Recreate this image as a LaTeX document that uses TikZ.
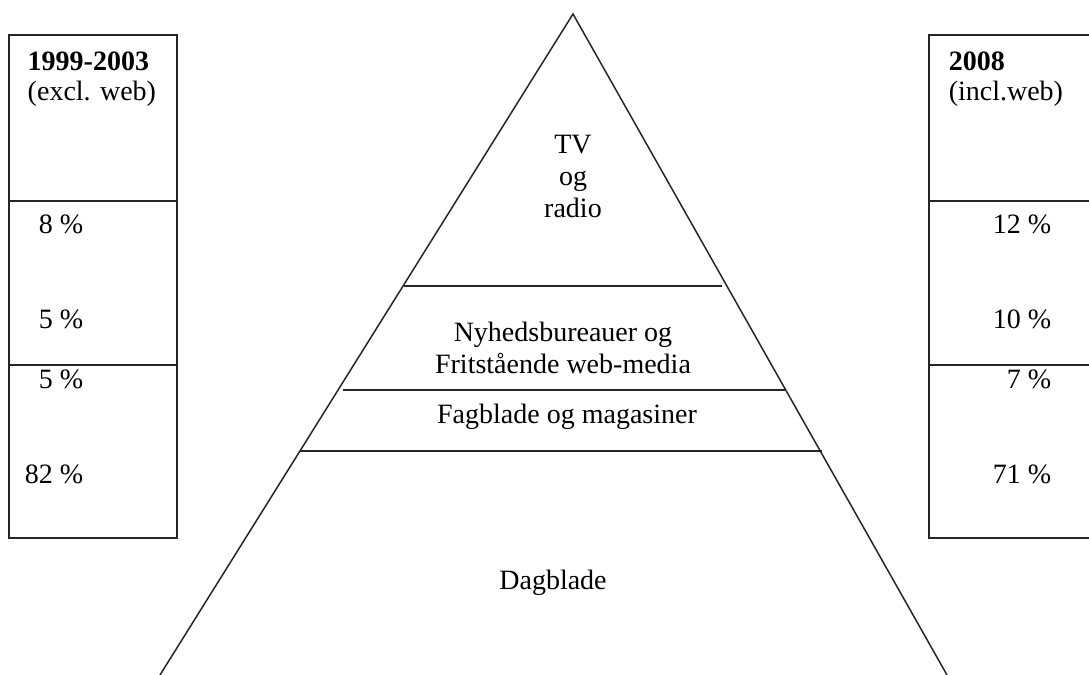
\documentclass[tikz,border=0pt]{standalone}
\usepackage{fontspec}
\setmainfont{Liberation Serif}
\begin{document}
\begin{tikzpicture}[x=0.5pt,y=-0.5pt,line width=0.75pt]
\tikzstyle{txt}=[inner sep=0pt,font=\fontsize{14}{16}\selectfont]
\tikzstyle{head}=[txt,anchor=base west]
\tikzstyle{pct}=[txt,anchor=base east]
\tikzstyle{mid}=[txt,anchor=base]
\useasboundingbox (0,0) rectangle (1089,675);
\clip (0,0) rectangle (1089,675);

% pyramid
\coordinate (apex) at (573,14);
\coordinate (botl) at (160,675);
\coordinate (botr) at (947,675);
\draw[black!85] (botl) -- (apex) -- (botr);
\draw[black!85] (404,286) -- (722,286);
\draw[black!85] (343,390) -- (785,390);
\draw[black!85] (300,451) -- (822,451);

\node[mid] (tv) at (573,153) {TV};
\node[mid] (og) at (573,185) {og};
\node[mid] (radio) at (573,217) {radio};
\node[mid] (nyh) at (563,341) {Nyhedsbureauer og};
\node[mid] (frit) at (563,373) {Fritstående web-media};
\node[mid] (fag) at (567,423) {Fagblade og magasiner};
\node[mid] (dag) at (553,589) {Dagblade};

% left box
\draw[black!85] (9,35) rectangle (177,538);
\draw[black!85] (9,201) -- (177,201);
\draw[black!85] (9,365) -- (177,365);
\node[head,font=\fontsize{14}{16}\selectfont\bfseries] (lyear) at (27,70) {1999-2003};
\node[head] (lnote) at (27,100) {(excl. web)};
\node[pct] (l1) at (84,233) {8 \%};
\node[pct] (l2) at (84,328) {5 \%};
\node[pct] (l3) at (84,388) {5 \%};
\node[pct] (l4) at (84,483) {82 \%};

% right box
\draw[black!85] (929,35) rectangle (1100,538);
\draw[black!85] (929,201) -- (1100,201);
\draw[black!85] (929,365) -- (1100,365);
\node[head,font=\fontsize{14}{16}\selectfont\bfseries] (ryear) at (948,70) {2008};
\node[head] (rnote) at (948,100) {(incl.web)};
\node[pct] (r1) at (1052,233) {12 \%};
\node[pct] (r2) at (1052,328) {10 \%};
\node[pct] (r3) at (1052,388) {7 \%};
\node[pct] (r4) at (1052,483) {71 \%};
\end{tikzpicture}
\end{document}
